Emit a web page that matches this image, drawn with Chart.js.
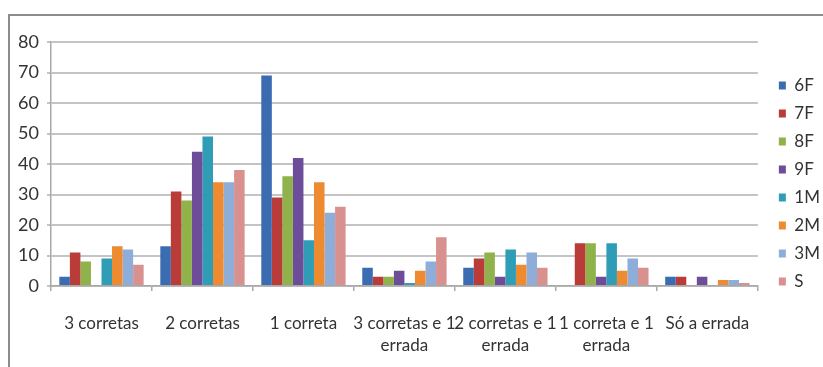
<!DOCTYPE html>
<html>
<head>
<meta charset="utf-8">
<script src="https://cdn.jsdelivr.net/npm/chart.js@4"></script>
<style>
  html, body { margin: 0; padding: 0; background: #ffffff; overflow: hidden; }
  #wrap { position: relative; width: 823px; height: 367px; }
  #frame { position: absolute; left: 8px; top: 14px; width: 830px; height: 370px;
           border-left: 2px solid #8c8c8c; border-top: 2px solid #8c8c8c; }
  canvas { position: absolute; left: 0; top: 0; }
</style>
</head>
<body>
<div id="wrap">
  <div id="frame"></div>
  <canvas id="chart" width="823" height="367"></canvas>
</div>
<script>
// Answer categories (multi-line labels)
const categories = [
  ["3 corretas"],
  ["2 corretas"],
  ["1 correta"],
  ["3 corretas e 1", "errada"],
  ["2 corretas e 1", "errada"],
  ["1 correta e 1", "errada"],
  ["Só a errada"]
];

// School years
const seriesNames = ["6F", "7F", "8F", "9F", "1M", "2M", "3M", "S"];

const s6F = [3, 13, 69, 6, 6, 0, 3];
const s7F = [11, 31, 29, 3, 9, 14, 3];
const s8F = [8, 28, 36, 3, 11, 14, 0];
const s9F = [0, 44, 42, 5, 3, 3, 3];
const s1M = [9, 49, 15, 1, 12, 14, 0];
const s2M = [13, 34, 34, 5, 7, 5, 2];
const s3M = [12, 34, 24, 8, 11, 9, 2];
const sS  = [7, 38, 26, 16, 6, 6, 1];

const yTicks = [0, 10, 20, 30, 40, 50, 60, 70, 80];

const seriesValues = [s6F, s7F, s8F, s9F, s1M, s2M, s3M, sS];
const seriesColors = ["#3b6cb2", "#b93c38", "#8fb24b", "#6d4c99", "#2f9db6",
                      "#ee8b30", "#8fadd9", "#d99190"];

const FONT = 'Lato, "Liberation Sans", sans-serif';
const TEXT = "#333333";
const GRID = "#c4c4c4";

new Chart(document.getElementById("chart"), {
  type: "bar",
  data: {
    labels: categories,
    datasets: seriesNames.map((name, i) => ({
      label: name,
      data: seriesValues[i],
      backgroundColor: seriesColors[i],
      borderWidth: 0,
      categoryPercentage: 0.835,
      barPercentage: 1.0
    }))
  },
  options: {
    responsive: false,
    animation: false,
    layout: { padding: { left: 0, top: 0, right: -7, bottom: 0 } },
    plugins: {
      tooltip: { enabled: false },
      legend: {
        position: "right",
        align: "center",
        labels: {
          boxWidth: 7,
          boxHeight: 8,
          padding: 11,
          color: TEXT,
          font: { family: FONT, size: 17 }
        }
      }
    },
    scales: {
      x: {
        position: "bottom",
        grid: {
          offset: true,
          drawOnChartArea: false,
          drawTicks: true,
          tickLength: 5,
          color: "#a8a8a8",
          lineWidth: 1.5
        },
        border: { display: true, color: "#a8a8a8", width: 1.5 },
        ticks: {
          color: TEXT,
          padding: 21,
          maxRotation: 0,
          autoSkip: false,
          font: { family: FONT, size: 17, lineHeight: 1.3 }
        },
        afterFit: s => { s.height = 81; }
      },
      y: {
        min: 0,
        max: 80,
        afterBuildTicks: s => { s.ticks = yTicks.map(v => ({ value: v })); },
        grid: {
          color: GRID,
          lineWidth: 2,
          tickLength: 4,
          drawTicks: true
        },
        border: { display: true, color: "#a8a8a8", width: 1.5 },
        ticks: {
          color: TEXT,
          padding: 8,
          font: { family: FONT, size: 18 }
        },
        afterFit: s => { s.width = 51; }
      },
      gapTop: {
        type: "linear",
        position: "top",
        display: true,
        grid: { display: false },
        border: { display: false },
        ticks: { display: false },
        afterFit: s => { s.height = 42; }
      },
      gapRight: {
        type: "linear",
        position: "right",
        display: true,
        grid: { display: false },
        border: { display: false },
        ticks: { display: false },
        afterFit: s => { s.width = 10; }
      }
    }
  }
});
</script>
</body>
</html>
